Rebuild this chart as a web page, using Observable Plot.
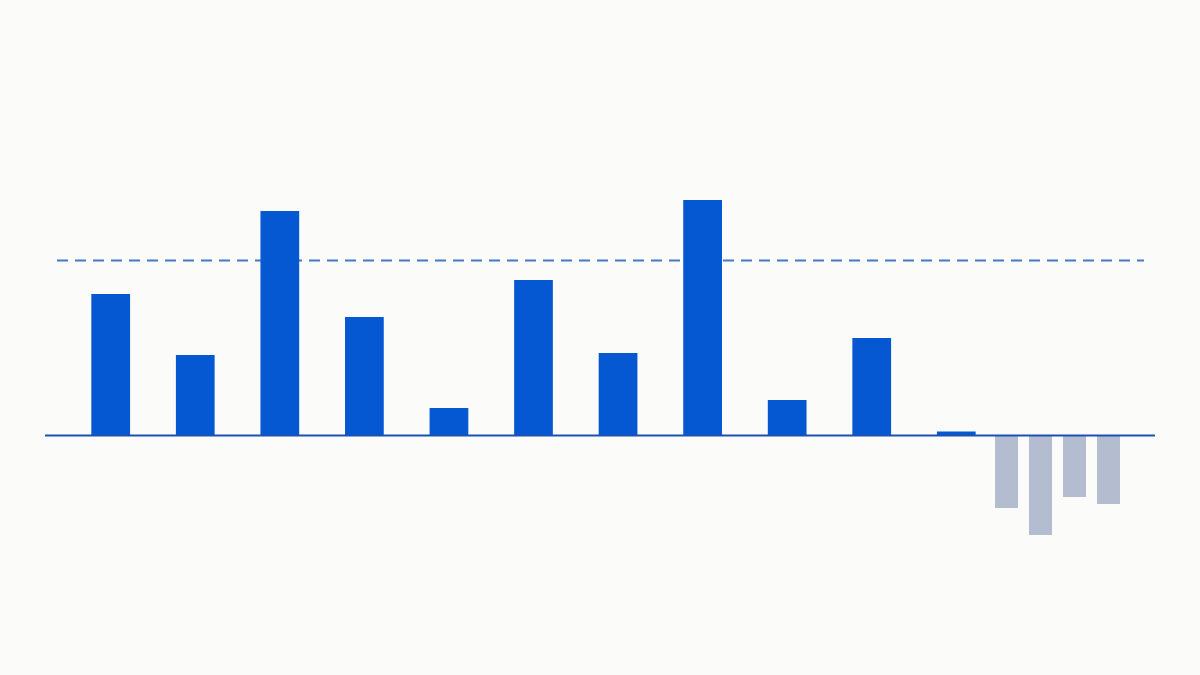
<!DOCTYPE html>
<html>
<head>
<meta charset="utf-8">
<script src="https://cdn.jsdelivr.net/npm/d3@7"></script>
<script src="https://cdn.jsdelivr.net/npm/@observablehq/plot@0.6"></script>
<style>
  html, body { margin: 0; padding: 0; background: #fbfbf9; }
  #chart svg { display: block; background: #fbfbf9; }
</style>
</head>
<body>
<div id="chart"></div>
<script>
// ---- data ----
const mainLabels = ["A", "B", "C", "D", "E", "F", "G", "H", "I", "J", "K"];
const mainValues = [14.1, 8.0, 22.4, 11.8, 2.7, 15.5, 8.2, 23.5, 3.5, 9.7, 0.35];
const negLabels = ["L", "M", "N", "O"];
const negValues = [-7.3, -10.0, -6.2, -6.9];
const referenceValue = [17.5];

// ---- layout (slot positions along the x scale) ----
const negStart = 10.594;
const negStep = 0.402;
const mainHalf = 0.229;
const negHalf = 0.136;

const mainData = mainLabels.map((label, i) => ({label, value: mainValues[i], pos: i}));
const negData = negLabels.map((label, j) => ({label, value: negValues[j], pos: negStart + j * negStep}));

const chart = Plot.plot({
  width: 1200,
  height: 675,
  marginTop: 0,
  marginBottom: 0,
  marginLeft: 45,
  marginRight: 45,
  style: {background: "#fbfbf9"},
  x: {domain: [-0.777, 12.35], axis: null},
  y: {domain: [-24, 43.5], axis: null},
  marks: [
    Plot.ruleY(referenceValue, {
      stroke: "#427ac6",
      strokeWidth: 2,
      strokeDasharray: "11,7",
      insetLeft: 12,
      insetRight: 11
    }),
    Plot.rectY(mainData, {
      x1: d => d.pos - mainHalf,
      x2: d => d.pos + mainHalf,
      y: "value",
      fill: "#0657d2"
    }),
    Plot.rectY(negData, {
      x1: d => d.pos - negHalf,
      x2: d => d.pos + negHalf,
      y: "value",
      fill: "#b4bdcf"
    }),
    Plot.ruleY([0], {stroke: "#1b50b4", strokeWidth: 2})
  ]
});
document.getElementById("chart").appendChild(chart);
</script>
</body>
</html>
